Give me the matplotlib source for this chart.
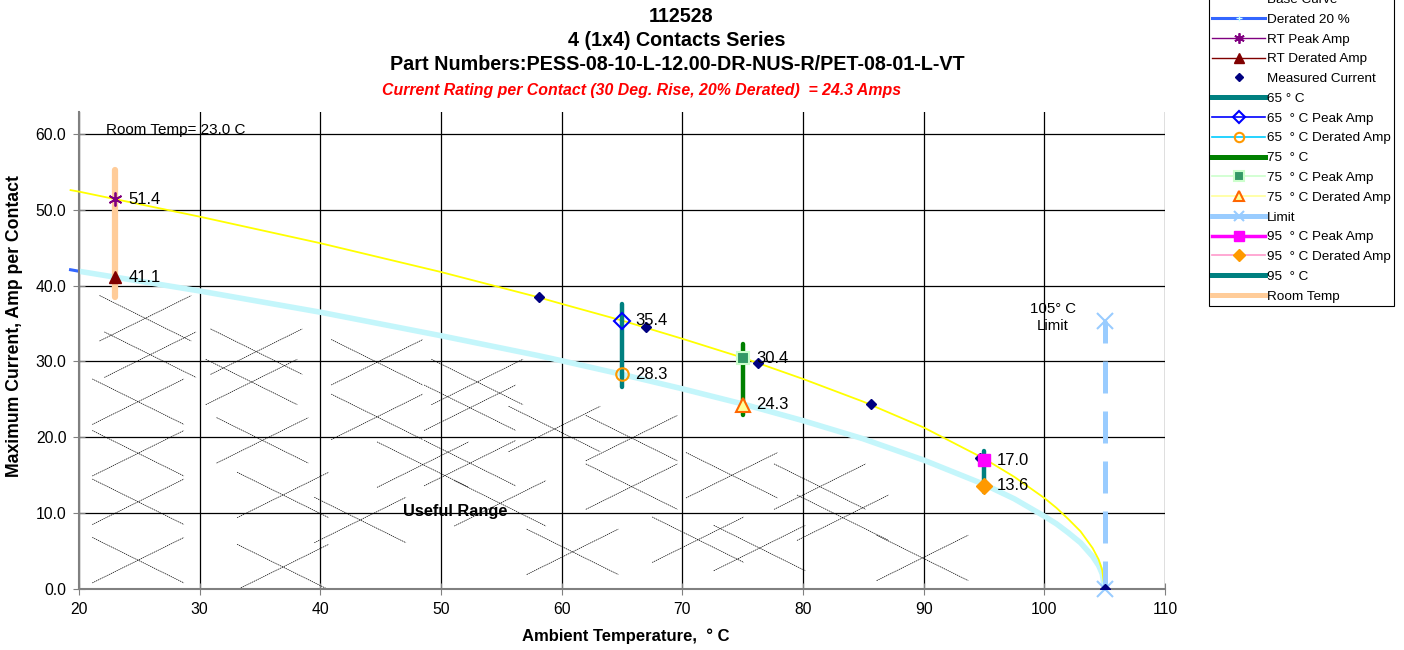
import matplotlib
matplotlib.use('Agg')
import matplotlib.pyplot as plt
from matplotlib.ticker import FormatStrFormatter

plt.rcParams['font.family'] = ['Liberation Sans', 'DejaVu Sans']

# curves (peak = yellow, derated = cyan/blue)
temp_curve = [19.3, 20, 30, 40, 50, 58, 60, 65, 70, 75, 80, 85, 90, 95, 97.5, 100, 101, 102, 103, 104, 104.5, 104.8, 105]
peak_curve = [52.6, 52.4, 49.1, 45.6, 41.8, 38.5, 37.6, 35.4, 33.0, 30.5, 27.7, 24.7, 21.3, 17.2, 14.8, 12.0, 10.7, 9.2, 7.6, 5.4, 3.9, 2.5, 0.0]
derated_curve = [42.1, 41.9, 39.3, 36.5, 33.4, 30.8, 30.1, 28.3, 26.4, 24.4, 22.2, 19.8, 17.0, 13.8, 11.9, 9.6, 8.6, 7.4, 6.1, 4.3, 3.1, 2.0, 0.0]

measured_temp = [58.1, 67.0, 76.3, 85.6, 94.7, 105.0]
measured_amp = [38.5, 34.6, 29.8, 24.4, 17.3, 0.0]

rt_temp = 23.0
rt_peak = 51.4
rt_derated = 41.1
rt_bar = [38.5, 55.3]

temps = [65, 75, 95]
peak_amps = [35.4, 30.4, 17.0]
derated_amps = [28.3, 24.3, 13.6]
bar_low = [26.7, 23.0, 12.8]
bar_high = [37.6, 32.3, 18.2]

limit_temp = 105
limit_range = [35.3, 0.0]

# centres of the dashed cross hatching in the "useful range"
hatch_centers = [(25.5, 35.7), (25.9, 30.9), (24.9, 24.7), (24.9, 17.9), (24.9, 11.5), (24.9, 3.8),
                 (34.7, 31.3), (34.3, 27.3), (35.2, 19.6), (36.9, 12.4), (36.9, 2.9),
                 (44.7, 29.9), (44.7, 22.7), (53.0, 27.3), (52.4, 23.9), (48.5, 16.4), (52.4, 16.6),
                 (43.3, 9.1), (54.9, 11.3), (59.4, 21.1), (65.8, 19.9), (65.8, 13.5), (74.1, 15.0),
                 (81.4, 13.5), (83.3, 9.4), (60.9, 4.9), (71.3, 6.5), (76.4, 5.4), (89.9, 4.1)]

fig = plt.figure(figsize=(14.04, 6.5), dpi=100)
ax = fig.add_axes([79/1404, 61/650, 1086/1404, 477/650])
ax.set_xlim(20, 110)
ax.set_ylim(0, 62.9)

hw, hh = 3.8, 3.0
for cx, cy in hatch_centers:
    ax.plot([cx - hw, cx + hw], [cy + hh, cy - hh], color='black', lw=0.5, ls=(0, (2, 1)), zorder=1)
    ax.plot([cx - hw, cx + hw], [cy - hh, cy + hh], color='black', lw=0.5, ls=(0, (2, 1)), zorder=1)

handles = []
h, = ax.plot(temp_curve, peak_curve, color='#FFFF00', lw=1.3, clip_on=False, zorder=3, label='Base Curve')
handles.append(h)
ax.plot(temp_curve, derated_curve, color='#3366FF', lw=2.2, clip_on=False, zorder=2)
ax.plot(temp_curve, derated_curve, color='#C4F6FB', lw=4, zorder=2.5)
h = plt.Line2D([], [], color='#3366FF', lw=2.2, marker='+', ms=5, mec='#CCFFFF', label='Derated 20 %')
handles.append(h)

h, = ax.plot([rt_temp], [rt_peak], color='#800080', marker=(6, 2, 0), ms=10, mew=1.3, lw=1, zorder=6,
             label='RT Peak Amp')
handles.append(h)
h, = ax.plot([rt_temp], [rt_derated], color='#800000', marker='^', ms=9, lw=1, zorder=6,
             label='RT Derated Amp')
handles.append(h)
h, = ax.plot(measured_temp, measured_amp, ls='none', marker='D', ms=5, color='#000080', zorder=5,
             label='Measured Current')
handles.append(h)

bar_colors = ['#008080', '#008000', '#008080']
for t, lo, hi, c in zip(temps, bar_low, bar_high, bar_colors):
    ax.plot([t, t], [lo, hi], color=c, lw=3.2, solid_capstyle='round', zorder=4)
ax.plot([rt_temp, rt_temp], rt_bar, color='#FFCC99', lw=4.5, solid_capstyle='round', zorder=4)

p65, = ax.plot([temps[0]], [peak_amps[0]], color='#0000FF', marker='D', ms=8, mfc='none', mew=1.5,
               lw=1.2, zorder=7)
d65, = ax.plot([temps[0]], [derated_amps[0]], color='#00CCFF', marker='o', ms=9, mfc='none', mec='#FF9900',
               mew=1.5, lw=1.2, zorder=7)
p75, = ax.plot([temps[1]], [peak_amps[1]], color='#CCFFCC', marker='s', ms=9, mfc='#339966', mec='#CCFFCC',
               mew=1.5, lw=1.2, zorder=7)
d75, = ax.plot([temps[1]], [derated_amps[1]], color='#FFFF99', marker='^', ms=10, mfc='#FFFF99', mec='#FF6600',
               mew=1.5, lw=1.2, zorder=7)
ax.plot([limit_temp, limit_temp], limit_range, color='#99CCFF', lw=3.6, ls=(2, (6.4, 3.6)),
        marker='x', ms=11, mew=1.5, clip_on=False, zorder=4)
p95, = ax.plot([temps[2]], [peak_amps[2]], color='#FF00FF', marker='s', ms=9, lw=2.5, zorder=7)
d95, = ax.plot([temps[2]], [derated_amps[2]], color='#FF99CC', marker='D', ms=8, mfc='#FF9900', mec='#FF9900',
               lw=1.2, zorder=7)

leg_bar = [plt.Line2D([], [], color=c, lw=3.6) for c in bar_colors]
leg_rt = plt.Line2D([], [], color='#FFCC99', lw=3.6)
leg_lim = plt.Line2D([], [], color='#99CCFF', lw=3.6, marker='x', ms=9, mew=1.5)
handles += [leg_bar[0], p65, d65, leg_bar[1], p75, d75, leg_lim, p95, d95, leg_bar[2], leg_rt]
labels = ['Base Curve', 'Derated 20 %', 'RT Peak Amp', 'RT Derated Amp', 'Measured Current',
          '65 ° C', '65  ° C Peak Amp', '65  ° C Derated Amp', '75  ° C', '75  ° C Peak Amp',
          '75  ° C Derated Amp', 'Limit', '95  ° C Peak Amp', '95  ° C Derated Amp', '95  ° C', 'Room Temp']

# value labels
for x, v in [(rt_temp, rt_peak), (rt_temp, rt_derated)] + list(zip(temps, peak_amps)) + list(zip(temps, derated_amps)):
    ax.annotate(f'{v:.1f}', (x, v), xytext=(9.5, 0), textcoords='offset points', va='center', ha='left',
                fontsize=12, zorder=8)

ax.text(22.2, 60.5, 'Room Temp= 23.0 C', fontsize=11, va='center', ha='left')
ax.text(100.7, 35.8, '105° C\nLimit', fontsize=10.8, va='center', ha='center', linespacing=1.2)
ax.text(51.2, 10.2, 'Useful Range', fontsize=11.8, fontweight='bold', va='center', ha='center')

ax.set_xticks(range(20, 111, 10))
ax.set_yticks(range(0, 61, 10))
ax.yaxis.set_major_formatter(FormatStrFormatter('%.1f'))
ax.grid(True, color='black', lw=0.9)
ax.set_axisbelow(True)
for s in ['top', 'right']:
    ax.spines[s].set_visible(False)
for s in ['left', 'bottom']:
    ax.spines[s].set_color('#808080')
    ax.spines[s].set_linewidth(1.5)
ax.tick_params(direction='inout', length=8, color='#808080', labelsize=11.3, pad=5)

fig.text(681/1404, 1 - 17/650, '112528', ha='center', va='center', fontsize=14.2, fontweight='bold')
fig.text(677/1404, 1 - 41/650, '4 (1x4) Contacts Series', ha='center', va='center', fontsize=14.2, fontweight='bold')
fig.text(677/1404, 1 - 64/650, 'Part Numbers:PESS-08-10-L-12.00-DR-NUS-R/PET-08-01-L-VT', ha='center',
         va='center', fontsize=14.2, fontweight='bold')
fig.text(642/1404, 1 - 90/650, 'Current Rating per Contact (30 Deg. Rise, 20% Derated)  = 24.3 Amps',
         ha='center', va='center', fontsize=11.4, fontweight='bold', fontstyle='italic', color='#FF0000')
fig.text(626/1404, 1 - 636/650, 'Ambient Temperature,  ° C', ha='center', va='center', fontsize=12,
         fontweight='bold')
fig.text(15/1404, 1 - 326/650, 'Maximum Current, Amp per Contact', ha='center', va='center', fontsize=12.7,
         fontweight='bold', rotation=90)

leg = fig.legend(handles, labels, loc='lower left', bbox_to_anchor=(1209/1404, 1 - 306/650), fontsize=9.7,
                 numpoints=1, markerscale=0.75, handlelength=3.9, handletextpad=0.15, labelspacing=0.545,
                 borderpad=0.25, borderaxespad=0, fancybox=False, framealpha=1, edgecolor='black')
leg.get_frame().set_linewidth(0.8)

fig.savefig('out.png', dpi=100)
